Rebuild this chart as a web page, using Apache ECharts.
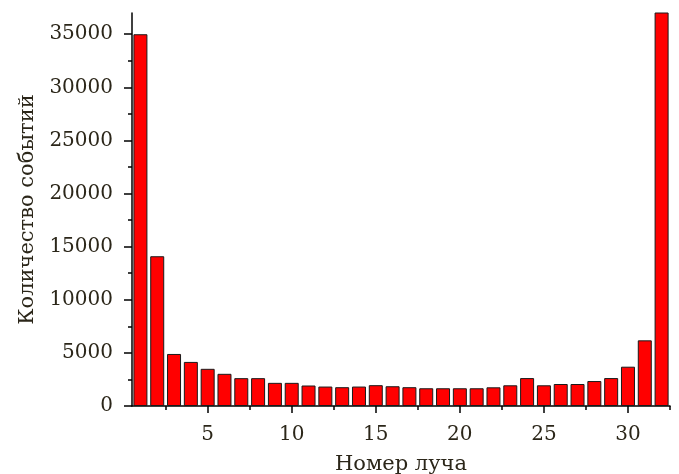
<!DOCTYPE html>
<html>
<head>
<meta charset="utf-8">
<script src="https://cdn.jsdelivr.net/npm/echarts@6/dist/echarts.min.js"></script>
<style>
    html, body { margin: 0; padding: 0; background: #fff; }
    #chart { width: 679px; height: 474px; }
</style>
</head>
<body>
<div id="chart"></div>
<script>
// номера лучей и количество событий
var beams = [1, 2, 3, 4, 5, 6, 7, 8, 9, 10, 11, 12, 13, 14, 15, 16,
    17, 18, 19, 20, 21, 22, 23, 24, 25, 26, 27, 28, 29, 30, 31, 32];
var counts = [35000, 14100, 4900, 4150, 3500, 3030, 2620, 2620, 2180, 2180, 1930, 1830, 1770, 1830, 1960, 1860,
    1770, 1670, 1670, 1670, 1670, 1760, 1950, 2630, 1950, 2070, 2070, 2350, 2630, 3700, 6180, 40000];

// подписи и засечки осей
var xMajorTicks = [5, 10, 15, 20, 25, 30];
var xMinorTicks = [2.5, 7.5, 12.5, 17.5, 22.5, 27.5, 32.5];
var yMajorTicks = [0, 5000, 10000, 15000, 20000, 25000, 30000, 35000];
var yMinorTicks = [2500, 7500, 12500, 17500, 22500, 27500, 32500];

var textColor = '#2b2619';
var font = 'DejaVu Serif';

var chart = echarts.init(document.getElementById('chart'));

function minorAxis(ticks, extra) {
    return Object.assign({
        type: 'value',
        axisLine: { show: false },
        axisLabel: { show: false },
        splitLine: { show: false },
        axisTick: {
            show: true,
            length: 4,
            customValues: ticks,
            lineStyle: { color: '#000', width: 1.5 }
        }
    }, extra);
}

chart.setOption({
    animation: false,
    grid: { left: 132, right: 9, top: 13, bottom: 68, outerBoundsMode: 'none' },
    xAxis: [
        {
            type: 'value',
            position: 'bottom',
            min: 0.5,
            max: 32.5,
            name: 'Номер луча',
            nameLocation: 'middle',
            nameGap: 48,
            nameTextStyle: { fontFamily: font, fontSize: 21, color: textColor },
            axisLine: { show: true, lineStyle: { color: '#000', width: 1.5 } },
            axisTick: {
                show: true,
                length: 7,
                customValues: xMajorTicks,
                lineStyle: { color: '#000', width: 1.5 }
            },
            axisLabel: {
                customValues: xMajorTicks,
                margin: 19,
                fontFamily: font,
                fontSize: 20,
                color: textColor,
                formatter: function (v) { return String(v); }
            },
            splitLine: { show: false }
        },
        minorAxis(xMinorTicks, { position: 'bottom', min: 0.5, max: 32.5 })
    ],
    yAxis: [
        {
            type: 'value',
            position: 'left',
            min: 0,
            max: 37000,
            name: 'Количество событий',
            nameLocation: 'middle',
            nameGap: 94,
            nameTextStyle: { fontFamily: font, fontSize: 21, color: textColor },
            axisLine: { show: true, lineStyle: { color: '#000', width: 1.5 } },
            axisTick: {
                show: true,
                length: 8,
                customValues: yMajorTicks,
                lineStyle: { color: '#000', width: 1.5 }
            },
            axisLabel: {
                customValues: yMajorTicks,
                margin: 19,
                fontFamily: font,
                fontSize: 20,
                color: textColor,
                formatter: function (v) { return String(v); }
            },
            splitLine: { show: false }
        },
        minorAxis(yMinorTicks, { position: 'left', min: 0, max: 37000 })
    ],
    series: [
        {
            type: 'bar',
            xAxisIndex: 0,
            yAxisIndex: 0,
            barWidth: 14,
            clip: true,
            data: beams.map(function (b, i) { return [b, counts[i]]; }),
            itemStyle: {
                color: '#ff0000',
                borderColor: '#1a1a1a',
                borderWidth: 1
            }
        }
    ]
});
</script>
</body>
</html>
